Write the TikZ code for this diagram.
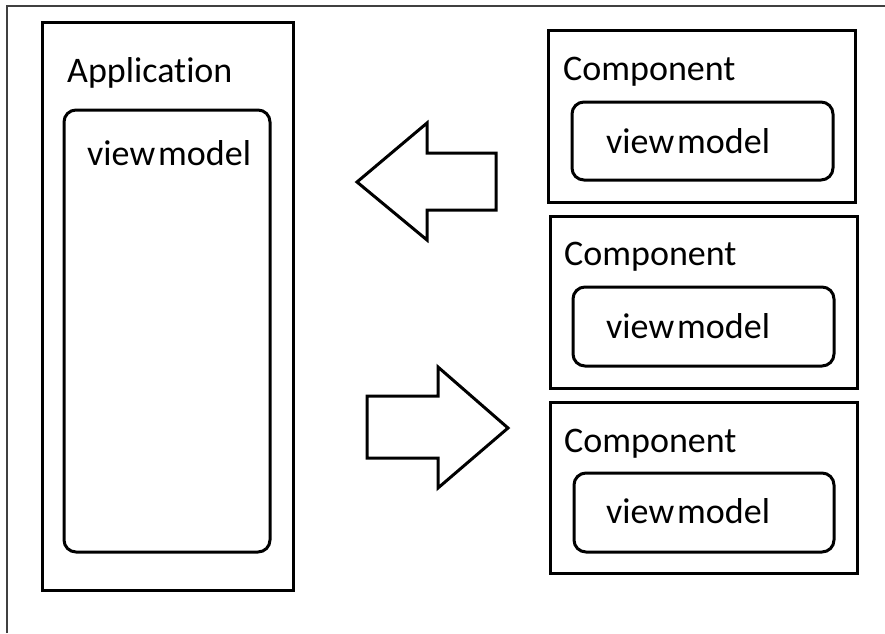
\documentclass[tikz,border=0pt]{standalone}
\usepackage{fontspec}
\setmainfont[Ligatures=NoCommon]{Carlito}
\newcommand{\vmtext}{view\kern3pt model}
\begin{document}
\begin{tikzpicture}[x=1pt,y=-1pt,
  outerbox/.style={draw=black,line width=3pt,rectangle,inner sep=0pt},
  vmbox/.style={draw=black,line width=3pt,rounded corners=12pt,inner sep=0pt},
  lbl/.style={anchor=base west,inner sep=0pt,font=\fontsize{36}{40}\selectfont,text=black},
  blockarrow/.style={draw=black,line width=3pt,line join=miter,fill=white}]
\useasboundingbox (0,0) rectangle (885,633);
% thin frame (top and left only)
\draw[line width=1.5pt,draw=black!75] (7,633) -- (7,6) -- (885,6);
% Application
\draw[outerbox] (42,22) rectangle (293,590);
\node[lbl] (apptxt) at (67,82) {Application};
\draw[vmbox] (64,110) rectangle (270,552);
\node[lbl] (appvm) at (87,165) {\vmtext};
% Component 1
\draw[outerbox] (548,30) rectangle (855,202);
\node[lbl] (c1txt) at (563,80) {Component};
\draw[vmbox] (572,102) rectangle (833,180);
\node[lbl] (c1vm) at (606,153) {\vmtext};
% Component 2
\draw[outerbox] (550,216) rectangle (857,388);
\node[lbl] (c2txt) at (564,265) {Component};
\draw[vmbox] (573,287) rectangle (834,366);
\node[lbl] (c2vm) at (606,338) {\vmtext};
% Component 3
\draw[outerbox] (550,402) rectangle (857,573);
\node[lbl] (c3txt) at (564,452) {Component};
\draw[vmbox] (574,473) rectangle (834,552);
\node[lbl] (c3vm) at (606,523) {\vmtext};
% left block arrow
\draw[blockarrow] (357,182) -- (427,123) -- (427,153) -- (496,153) -- (496,210) -- (427,210) -- (427,240) -- cycle;
% right block arrow
\draw[blockarrow] (508,428) -- (438,367) -- (438,396) -- (367,396) -- (367,458) -- (438,458) -- (438,488) -- cycle;
\end{tikzpicture}
\end{document}
